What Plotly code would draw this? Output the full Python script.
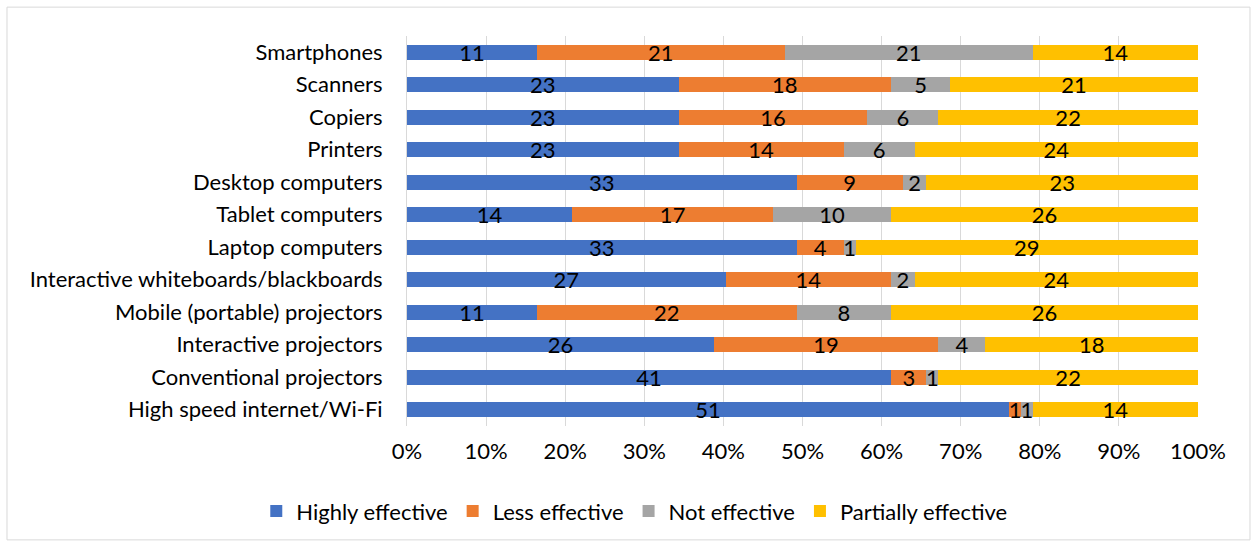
import plotly.graph_objects as go

categories = ["Smartphones", "Scanners", "Copiers", "Printers", "Desktop computers",
              "Tablet computers", "Laptop computers", "Interactive whiteboards/blackboards",
              "Mobile (portable) projectors", "Interactive projectors",
              "Conventional projectors", "High speed internet/Wi-Fi"]
highly = [11, 23, 23, 23, 33, 14, 33, 27, 11, 26, 41, 51]
less = [21, 18, 16, 14, 9, 17, 4, 14, 22, 19, 3, 1]
not_eff = [21, 5, 6, 6, 2, 10, 1, 2, 8, 4, 1, 1]
partially = [14, 21, 22, 24, 23, 26, 29, 24, 26, 18, 22, 14]

series = [("Highly effective", highly, "#4472C4"),
          ("Less effective", less, "#ED7D31"),
          ("Not effective", not_eff, "#A5A5A5"),
          ("Partially effective", partially, "#FFC000")]

FONT = "Lato"
FS = 22
fig = go.Figure()
for name, vals, color in series:
    fig.add_trace(go.Bar(
        y=categories, x=vals, name=name, orientation="h",
        marker=dict(color=color, line=dict(width=0)),
        text=[str(v) for v in vals], textposition="inside",
        insidetextanchor="middle", textangle=0, constraintext="none",
        textfont=dict(family=FONT, size=FS, color="#000000"),
    ))

fig.update_layout(
    barmode="stack", barnorm="percent", bargap=0.53,
    width=1256, height=548,
    margin=dict(l=407, r=58, t=36, b=122),
    paper_bgcolor="white", plot_bgcolor="white",
    font=dict(family=FONT, size=FS, color="#000000"),
    uniformtext=dict(mode="show", minsize=FS),
    xaxis=dict(range=[0, 100], tickvals=list(range(0, 101, 10)),
               ticktext=[f"{v}%" for v in range(0, 101, 10)],
               showgrid=True, gridcolor="#D9D9D9", gridwidth=1,
               zeroline=False, showline=False, ticks="", ticklabelstandoff=10,
               tickfont=dict(family=FONT, size=FS, color="#000000")),
    yaxis=dict(autorange="reversed", showline=True, linecolor="#D9D9D9",
               ticks="", ticklabelstandoff=19,
               tickfont=dict(family=FONT, size=FS, color="#000000")),
    legend=dict(orientation="h", xref="container", yref="container",
                x=0.505, xanchor="center", y=0.067, yanchor="middle",
                traceorder="normal",
                font=dict(family=FONT, size=FS, color="#000000"),
                itemwidth=30, tracegroupgap=0),
    shapes=[dict(type="rect", xref="paper", yref="paper",
                 x0=-0.5057, x1=1.0657, y0=-0.292, y1=1.074,
                 line=dict(color="#D9D9D9", width=1), fillcolor="rgba(0,0,0,0)")],
)

fig.write_html("out.html")
